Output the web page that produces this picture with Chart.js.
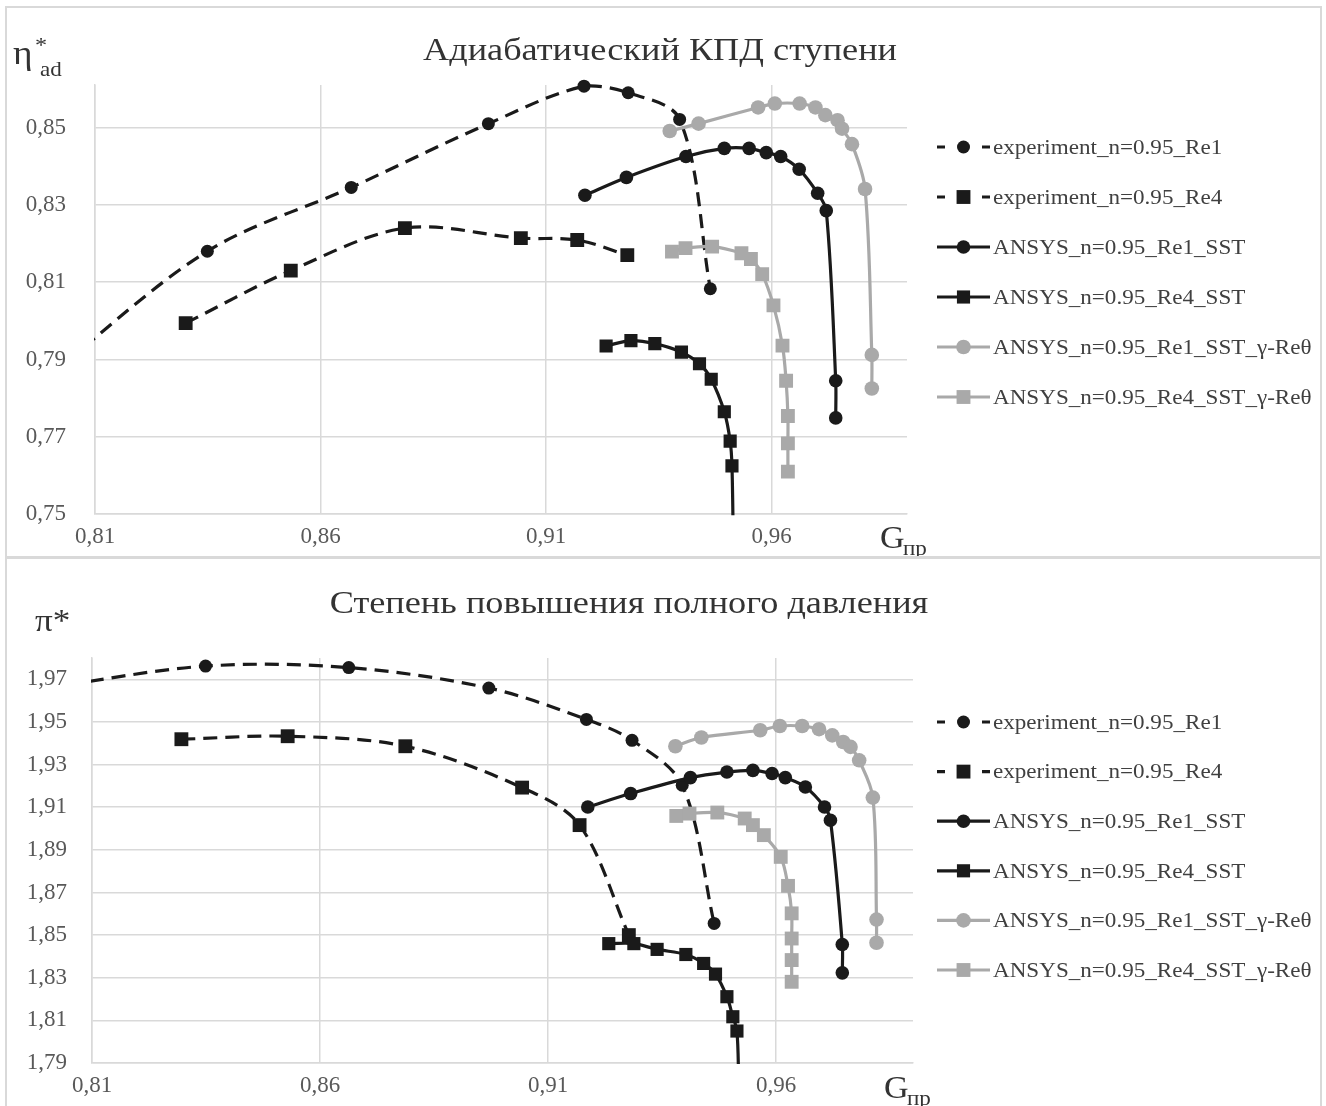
<!DOCTYPE html>
<html>
<head>
<meta charset="utf-8">
<script src="https://cdn.jsdelivr.net/npm/chart.js@4.4.1/dist/chart.umd.min.js"></script>
<style>
  body { margin: 0; background: #fff; width: 1326px; height: 1106px; overflow: hidden; position: relative; }
  canvas { position: absolute; left: 0; }
  #effChart { top: 0; }
  #piChart { top: 557px; }
  .frame { position: absolute; border: 2px solid #d9d9d9; box-sizing: border-box; pointer-events: none; }
</style>
</head>
<body>
<canvas id="effChart" width="1326" height="557"></canvas>
<canvas id="piChart" width="1326" height="549"></canvas>
<div class="frame" style="left:5px;top:6px;width:1317px;height:552px"></div>
<div class="frame" style="left:5px;top:557px;width:1317px;height:600px"></div>
<script>
// series names (legend)
const seriesNames = [
  "experiment_n=0.95_Re1",
  "experiment_n=0.95_Re4",
  "ANSYS_n=0.95_Re1_SST",
  "ANSYS_n=0.95_Re4_SST",
  "ANSYS_n=0.95_Re1_SST_γ-Reθ",
  "ANSYS_n=0.95_Re4_SST_γ-Reθ"
];

// shared x ticks (G пр)
const gTicks = [0.81, 0.86, 0.91, 0.96];
const gTickLabels = ["0,81", "0,86", "0,91", "0,96"];

// ---- top chart: adiabatic efficiency ----
const etaTicks = [0.75, 0.77, 0.79, 0.81, 0.83, 0.85];
const etaTickLabels = ["0,75", "0,77", "0,79", "0,81", "0,83", "0,85"];

const gExpRe1_eta = [0.800, 0.8349, 0.8668, 0.8972, 0.9184, 0.9282, 0.9396, 0.9464];
const etaExpRe1 = [0.786, 0.818, 0.8345, 0.851, 0.8607, 0.859, 0.8521, 0.8083];

const gExpRe4_eta = [0.8301, 0.8534, 0.8787, 0.9044, 0.9169, 0.928];
const etaExpRe4 = [0.7994, 0.813, 0.824, 0.8214, 0.8209, 0.817];

const gSstRe1_eta = [0.9186, 0.9278, 0.941, 0.9495, 0.955, 0.9588, 0.962, 0.9661, 0.9702, 0.9721, 0.9742, 0.9742];
const etaSstRe1 = [0.8325, 0.8371, 0.8425, 0.8446, 0.8446, 0.8435, 0.8425, 0.8392, 0.833, 0.8285, 0.7845, 0.7749];

const gSstRe4_eta = [0.9233, 0.9288, 0.9341, 0.94, 0.944, 0.9466, 0.9495, 0.9508, 0.9512, 0.9515];
const etaSstRe4 = [0.7935, 0.7949, 0.7941, 0.7919, 0.7889, 0.7849, 0.7765, 0.7689, 0.7625, 0.742];

const gGamRe1_eta = [0.9374, 0.9438, 0.957, 0.9607, 0.9662, 0.9697, 0.9719, 0.9746, 0.9756, 0.9778, 0.9807, 0.9822, 0.9822];
const etaGamRe1 = [0.8491, 0.851, 0.8552, 0.8562, 0.8562, 0.8552, 0.8532, 0.8519, 0.8497, 0.8457, 0.8341, 0.7912, 0.7825];

const gGamRe4_eta = [0.9379, 0.9409, 0.9468, 0.9533, 0.9554, 0.9579, 0.9604, 0.9624, 0.9632, 0.9636, 0.9636, 0.9636];
const etaGamRe4 = [0.8179, 0.8188, 0.8192, 0.8175, 0.816, 0.8121, 0.804, 0.7936, 0.7845, 0.7754, 0.7683, 0.761];

// ---- bottom chart: total pressure ratio ----
const piTicks = [1.79, 1.81, 1.83, 1.85, 1.87, 1.89, 1.91, 1.93, 1.95, 1.97];
const piTickLabels = ["1,79", "1,81", "1,83", "1,85", "1,87", "1,89", "1,91", "1,93", "1,95", "1,97"];

const gExpRe1_pi = [0.800, 0.8349, 0.8663, 0.897, 0.9184, 0.9284, 0.9394, 0.9464];
const piExpRe1 = [1.966, 1.9762, 1.9755, 1.9659, 1.9512, 1.9414, 1.9203, 1.8555];

const gExpRe4_pi = [0.8296, 0.8529, 0.8787, 0.9043, 0.9169, 0.9277];
const piExpRe4 = [1.9419, 1.9433, 1.9386, 1.9192, 1.9016, 1.85];

const gSstRe1_pi = [0.9187, 0.9281, 0.9412, 0.9492, 0.9549, 0.9591, 0.962, 0.9664, 0.9706, 0.9719, 0.9745, 0.9745];
const piSstRe1 = [1.9101, 1.9164, 1.9239, 1.9265, 1.9273, 1.9258, 1.9239, 1.9195, 1.9101, 1.9039, 1.8456, 1.8323];

const gSstRe4_pi = [0.9233, 0.9288, 0.9339, 0.9402, 0.9441, 0.9467, 0.9492, 0.9505, 0.9514, 0.9518];
const piSstRe4 = [1.846, 1.846, 1.8433, 1.8409, 1.8367, 1.8317, 1.8211, 1.8117, 1.805, 1.78];

const gGamRe1_pi = [0.9379, 0.9436, 0.9565, 0.9608, 0.9657, 0.9694, 0.9723, 0.9747, 0.9763, 0.9782, 0.9812, 0.982, 0.982];
const piGamRe1 = [1.9386, 1.9427, 1.9461, 1.9481, 1.9481, 1.9466, 1.9437, 1.9406, 1.9383, 1.932, 1.9145, 1.8573, 1.8464];

const gGamRe4_pi = [0.9381, 0.941, 0.9471, 0.9531, 0.9549, 0.9573, 0.961, 0.9626, 0.9634, 0.9634, 0.9634, 0.9634];
const piGamRe4 = [1.9059, 1.907, 1.9075, 1.9047, 1.9016, 1.8969, 1.8867, 1.8731, 1.8602, 1.8484, 1.8383, 1.8281];

const SERIF = '"Liberation Serif", "DejaVu Serif", serif';
const BLACK = "#1a1a1a";
const GREY = "#a9a9a9";

// line/marker look for each series, same order as seriesNames
const looks = [
  { color: BLACK, dash: [14, 8], style: "circle", r: 6.5 },
  { color: BLACK, dash: [14, 8], style: "rect", r: 9.8 },
  { color: BLACK, dash: [], style: "circle", r: 6.8 },
  { color: BLACK, dash: [], style: "rect", r: 9.3 },
  { color: GREY, dash: [], style: "circle", r: 7.3 },
  { color: GREY, dash: [], style: "rect", r: 9.8 }
];

function pairs(xs, ys) {
  return xs.map((x, i) => ({ x: x, y: ys[i] }));
}

function buildDatasets(series) {
  return series.map((s, i) => ({
    label: seriesNames[i],
    data: pairs(s[0], s[1]),
    showLine: true,
    clip: { left: 1, top: 8, right: 1, bottom: 1 },
    borderColor: looks[i].color,
    backgroundColor: looks[i].color,
    borderWidth: 3.2,
    borderDash: looks[i].dash,
    tension: 0.33,
    pointStyle: looks[i].style,
    pointRadius: looks[i].r,
    pointHoverRadius: looks[i].r,
    pointBorderWidth: 0,
    order: series.length - i
  }));
}

function drawMarker(ctx, look, x, y) {
  ctx.fillStyle = look.color;
  ctx.beginPath();
  if (look.style === "circle") {
    ctx.arc(x, y, look.r, 0, Math.PI * 2);
  } else {
    const h = look.r * Math.SQRT1_2;
    ctx.rect(x - h, y - h, 2 * h, 2 * h);
  }
  ctx.fill();
}

// the original picture has slightly wide lettering
function wideText(ctx, txt, x, y, sx) {
  ctx.save();
  ctx.translate(x, y);
  ctx.scale(sx, 1);
  ctx.fillText(txt, 0, 0);
  ctx.restore();
}

// titles, axis names and legend are drawn on the canvas
const panelText = {
  id: "panelText",
  afterDraw(chart, args, opts) {
    const ctx = chart.ctx;
    ctx.save();
    ctx.textBaseline = "alphabetic";
    ctx.fillStyle = "#333333";
    ctx.textAlign = "center";
    ctx.font = "31px " + SERIF;
    wideText(ctx, opts.title, opts.titleX, opts.titleY, 1.17);

    ctx.textAlign = "left";
    opts.runs.forEach(r => {
      ctx.font = r.size + "px " + SERIF;
      ctx.fillStyle = "#333333";
      wideText(ctx, r.t, r.x, r.y, 1.1);
    });

    // legend
    const x0 = 937, x1 = 990;
    seriesNames.forEach((name, i) => {
      const y = opts.legendTop + i * opts.legendStep;
      const look = looks[i];
      ctx.strokeStyle = look.color;
      ctx.lineWidth = 3.2;
      ctx.setLineDash([]);
      ctx.beginPath();
      if (look.dash.length) {
        ctx.moveTo(x0, y); ctx.lineTo(x0 + 8, y);
        ctx.moveTo(x1 - 8, y); ctx.lineTo(x1, y);
      } else {
        ctx.moveTo(x0, y); ctx.lineTo(x1, y);
      }
      ctx.stroke();
      drawMarker(ctx, look, (x0 + x1) / 2, y);
      ctx.fillStyle = "#404040";
      ctx.font = "22px " + SERIF;
      ctx.textBaseline = "middle";
      wideText(ctx, name, 993, y + 1, 1.05);
      ctx.textBaseline = "alphabetic";
    });
    ctx.restore();
  }
};

function makeChart(id, series, yMin, yMax, yTicks, yLabels, geo, text) {
  return new Chart(document.getElementById(id), {
    type: "scatter",
    data: { datasets: buildDatasets(series) },
    options: {
      responsive: false,
      animation: false,
      events: [],
      layout: { padding: { top: geo.top, right: geo.right, bottom: 0, left: 0 } },
      plugins: { legend: { display: false }, tooltip: { enabled: false }, panelText: text },
      scales: {
        x: {
          type: "linear",
          min: 0.81,
          max: 0.99,
          afterBuildTicks: s => { s.ticks = gTicks.map(v => ({ value: v })); },
          afterFit: s => { s.height = geo.xHeight; },
          ticks: {
            autoSkip: false, maxRotation: 0, padding: 9,
            color: "#595959", font: { family: SERIF, size: 23 },
            callback: (v, i) => gTickLabels[i]
          },
          grid: { color: "#d9d9d9", lineWidth: 1.5, drawTicks: false },
          border: { color: "#d9d9d9", width: 1.5 }
        },
        y: {
          type: "linear",
          min: yMin,
          max: yMax,
          afterBuildTicks: s => { s.ticks = yTicks.map(v => ({ value: v })); },
          afterFit: s => { s.width = geo.yWidth; },
          ticks: {
            autoSkip: false, padding: geo.yPad,
            color: "#595959", font: { family: SERIF, size: 23 },
            callback: (v, i) => yLabels[i]
          },
          grid: { color: "#d9d9d9", lineWidth: 1.5, drawTicks: false },
          border: { color: "#d9d9d9", width: 1.5 }
        }
      }
    },
    plugins: [panelText]
  });
}

makeChart("effChart",
  [[gExpRe1_eta, etaExpRe1], [gExpRe4_eta, etaExpRe4], [gSstRe1_eta, etaSstRe1],
   [gSstRe4_eta, etaSstRe4], [gGamRe1_eta, etaGamRe1], [gGamRe4_eta, etaGamRe4]],
  0.75, 0.861, etaTicks, etaTickLabels,
  { top: 85, right: 419, xHeight: 41, yWidth: 95, yPad: 29 },
  {
    title: "Адиабатический КПД ступени", titleX: 660, titleY: 60,
    runs: [
      { t: "η", x: 13, y: 64, size: 34 },
      { t: "*", x: 35, y: 52, size: 22 },
      { t: "ad", x: 40, y: 76, size: 21 },
      { t: "G", x: 880, y: 548, size: 31 },
      { t: "пр", x: 903, y: 555, size: 21 }
    ],
    legendTop: 147, legendStep: 50
  });

makeChart("piChart",
  [[gExpRe1_pi, piExpRe1], [gExpRe4_pi, piExpRe4], [gSstRe1_pi, piSstRe1],
   [gSstRe4_pi, piSstRe4], [gGamRe1_pi, piGamRe1], [gGamRe4_pi, piGamRe4]],
  1.79, 1.98, piTicks, piTickLabels,
  { top: 101, right: 413, xHeight: 43, yWidth: 92, yPad: 25 },
  {
    title: "Степень повышения полного давления", titleX: 629, titleY: 56,
    runs: [
      { t: "π*", x: 35, y: 74, size: 32 },
      { t: "G", x: 884, y: 541, size: 31 },
      { t: "пр", x: 907, y: 548, size: 21 }
    ],
    legendTop: 165, legendStep: 49.6
  });
</script>
</body>
</html>
